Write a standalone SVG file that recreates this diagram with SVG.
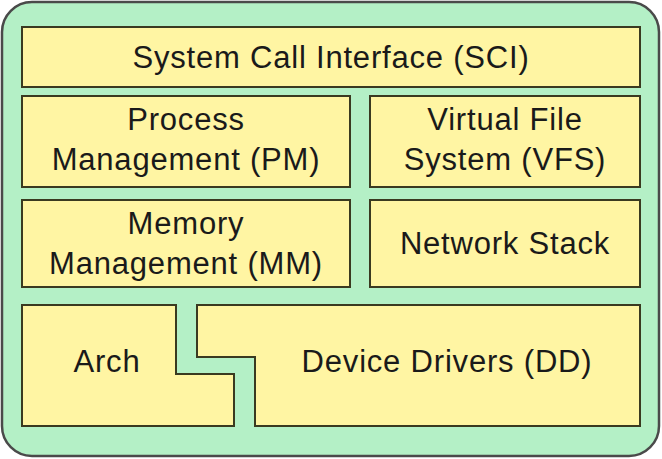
<svg xmlns="http://www.w3.org/2000/svg" width="662" height="459" viewBox="0 0 662 459">
<style>
.b{fill:#fff5a3;stroke:#3a3a20;stroke-width:2}
text{font-family:"Liberation Sans",Arial,sans-serif;font-size:31px;letter-spacing:0.8px;fill:#1a1a1a;text-anchor:middle}
</style>
<rect x="2" y="2" width="657" height="454" rx="30" fill="#b4f0c6" stroke="#4a4a4a" stroke-width="2.5"/>
<g id="sci"><rect class="b" x="22" y="27" width="618" height="60"/><text x="331" y="68">System Call Interface (SCI)</text></g>
<g id="pm"><rect class="b" x="22" y="96" width="328" height="91"/><text x="186" y="130">Process</text><text x="186" y="170">Management (PM)</text></g>
<g id="vfs"><rect class="b" x="370" y="96" width="270" height="91"/><text x="505" y="130">Virtual File</text><text x="505" y="170">System (VFS)</text></g>
<g id="mm"><rect class="b" x="22" y="200" width="328" height="87"/><text x="186" y="234">Memory</text><text x="186" y="274">Management (MM)</text></g>
<g id="net"><rect class="b" x="370" y="200" width="270" height="87"/><text x="505" y="254">Network Stack</text></g>
<g id="arch"><path class="b" d="M22,305H176V374H234V426H22Z"/><text x="107" y="372">Arch</text></g>
<g id="dd"><path class="b" d="M197,305H640V426H255V357H197Z"/><text x="447" y="372">Device Drivers (DD)</text></g>
<g id="connectors"/>
</svg>
